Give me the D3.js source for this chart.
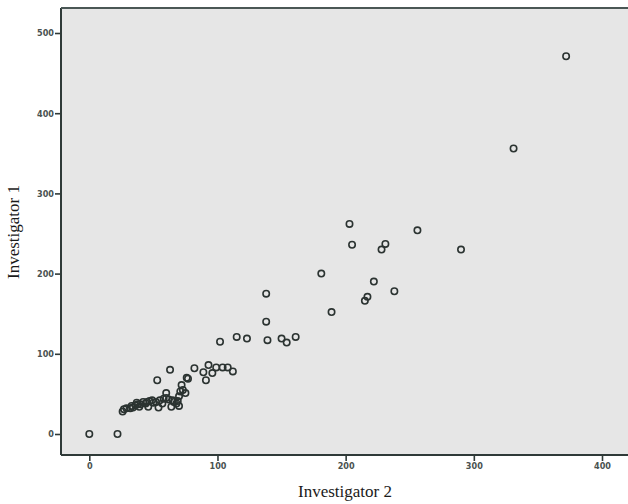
<!DOCTYPE html>
<html><head><meta charset="utf-8">
<script src="https://cdn.jsdelivr.net/npm/d3@7"></script>
<style>body{margin:0;background:#fff}svg{display:block}</style>
</head><body>
<svg id="c" width="628" height="504"></svg>
<script>
// Investigator 2 (x) vs Investigator 1 (y)
const inv2 = [0,22,26,27,29,32,33,34,36,37,38,39,40,42,44,45,46,47,49,50,52,54,55,57,58,60,60,62,64,65,66,68,69,70,70,71,73,75,72,76,77,53,63,82,89,91,93,96,99,104,108,112,102,115,123,138,138,139,150,154,161,181,189,203,205,215,217,222,228,231,238,256,290,331,372];
const inv1 = [0,0,28,31,32,32,35,33,36,39,37,34,37,40,38,40,34,41,42,39,40,33,42,38,44,45,51,43,34,42,40,38,41,35,47,53,55,51,61,70,69,67,80,82,77,67,86,76,83,83,83,78,115,121,119,175,140,117,119,114,121,200,152,262,236,166,171,190,230,237,178,254,230,356,471];
const xTicks = [0,100,200,300,400];
const yTicks = [0,100,200,300,400,500];
const xTitle = "Investigator 2", yTitle = "Investigator 1";

const svg = d3.select("#c");
const L = 61, T = 8, R = 640, B = 455;
const x = d3.scaleLinear().domain([0,400]).range([89.3,602]);
const y = d3.scaleLinear().domain([0,500]).range([434,33]);

svg.append("rect").attr("x",L).attr("y",T).attr("width",R-L).attr("height",B-T).attr("fill","#e6e6e6");

const gx = svg.append("g").attr("transform",`translate(0,${B})`)
  .call(d3.axisBottom(x).tickValues(xTicks).tickSize(6).tickSizeOuter(0).tickPadding(2));
const gy = svg.append("g").attr("transform",`translate(${L},0)`)
  .call(d3.axisLeft(y).tickValues(yTicks).tickSize(6).tickSizeOuter(0).tickPadding(1));
[gx,gy].forEach(g=>{
  g.select(".domain").remove();
  g.selectAll(".tick line").attr("stroke","#2f3a38").attr("stroke-width",1.6);
  g.selectAll(".tick text").attr("fill","#4a5250").style("font-family","'Liberation Sans Narrow','DejaVu Sans Condensed',sans-serif").style("font-size","9px").style("font-weight","bold");
});
// frame lines
svg.append("line").attr("x1",L).attr("x2",L).attr("y1",T).attr("y2",B).attr("stroke","#2f3a38").attr("stroke-width",2);
svg.append("line").attr("x1",L).attr("x2",628).attr("y1",B).attr("y2",B).attr("stroke","#2f3a38").attr("stroke-width",2);
svg.append("line").attr("x1",L).attr("x2",628).attr("y1",T).attr("y2",T).attr("stroke","#4a5755").attr("stroke-width",2);

svg.append("g").selectAll("circle").data(d3.range(inv2.length)).join("circle")
  .attr("cx",i=>x(inv2[i])).attr("cy",i=>y(inv1[i])).attr("r",3.2)
  .attr("fill","none").attr("stroke","#2b3331").attr("stroke-width",1.6);

svg.append("text").attr("x",345).attr("y",497).attr("text-anchor","middle")
  .style("font-family","'Liberation Serif','DejaVu Serif',serif").style("font-size","17px").attr("fill","#1a1a1a").text(xTitle);
svg.append("text").attr("transform","translate(19,232) rotate(-90)").attr("text-anchor","middle")
  .style("font-family","'Liberation Serif','DejaVu Serif',serif").style("font-size","17px").attr("fill","#1a1a1a").text(yTitle);
</script>
</body></html>
